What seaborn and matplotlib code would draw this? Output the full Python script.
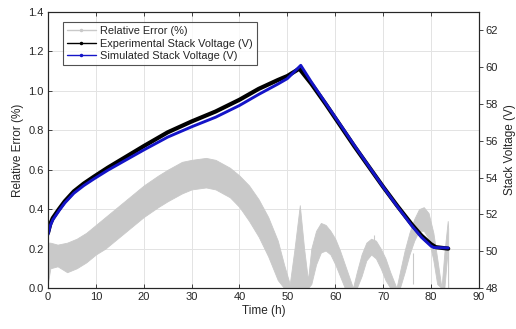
import numpy as np
import pandas as pd
import matplotlib
matplotlib.use("Agg")
import matplotlib.pyplot as plt
from matplotlib.lines import Line2D
import seaborn as sns

# relative error band (envelope)
err_t = [0, 0.5, 2, 4, 6, 8, 10, 12, 15, 18, 20, 23, 25, 28, 30, 33, 35, 38, 40, 42,
         44, 46, 48, 49.3, 50.5, 51.5, 52.6, 53.5, 54.3, 55, 56, 57, 58, 59, 60, 61,
         62, 63, 63.7, 64.5, 65.5, 66.5, 67.5, 68.5, 69.5, 70.5, 71.5, 72.8, 73.5,
         74.5, 75.5, 76.5, 77.5, 78.5, 79.5, 80.5, 81.3, 82.2, 82.8, 83.5, 83.6]
err_hi = [0.23, 0.23, 0.22, 0.23, 0.25, 0.28, 0.32, 0.36, 0.42, 0.48, 0.52, 0.57, 0.60,
          0.64, 0.65, 0.66, 0.65, 0.61, 0.57, 0.52, 0.45, 0.36, 0.24, 0.12, 0.02, 0.20,
          0.42, 0.20, 0.04, 0.20, 0.29, 0.33, 0.32, 0.29, 0.25, 0.19, 0.12, 0.05, 0.0,
          0.08, 0.17, 0.23, 0.25, 0.24, 0.20, 0.15, 0.08, 0.0, 0.08, 0.19, 0.28, 0.35,
          0.40, 0.41, 0.38, 0.28, 0.15, 0.0, 0.18, 0.34, 0.30]
err_lo = [0.03, 0.10, 0.11, 0.08, 0.10, 0.13, 0.17, 0.20, 0.26, 0.32, 0.36, 0.41, 0.44,
          0.48, 0.50, 0.51, 0.50, 0.46, 0.41, 0.34, 0.26, 0.16, 0.04, 0.0, 0.0, 0.0,
          0.0, 0.0, 0.0, 0.02, 0.12, 0.18, 0.19, 0.17, 0.12, 0.06, 0.0, 0.0, 0.0,
          0.0, 0.06, 0.14, 0.17, 0.15, 0.10, 0.04, 0.0, 0.0, 0.0, 0.08, 0.17, 0.24,
          0.29, 0.29, 0.25, 0.14, 0.02, 0.0, 0.0, 0.20, 0.0]
# isolated outlier streaks (time, low, high)
spike_t = [76.2, 68.2]
spike_lo = [0.02, 0.22]
spike_hi = [0.18, 0.27]

# stack voltages
exp_t = [0, 0.5, 1, 2.3, 3.5, 5.4, 7.5, 9.6, 12.5, 15.9, 20, 25, 30, 35, 40, 44, 48,
         50, 52.5, 55, 58, 61, 64, 67, 70, 73, 76, 78, 80, 81, 83.6]
exp_v = [51.0, 51.5, 51.8, 52.29, 52.71, 53.25, 53.68, 54.05, 54.54, 55.07, 55.71,
         56.46, 57.05, 57.59, 58.23, 58.82, 59.30, 59.52, 59.92,
         59.1, 58.0, 56.85, 55.7, 54.6, 53.5, 52.45, 51.45, 50.85, 50.38, 50.22, 50.14]
sim_t = [0, 0.5, 1, 2.3, 3.5, 5.4, 7.5, 9.6, 12.5, 15.9, 20, 25, 30, 35, 40, 44, 48,
         50, 52.8, 55, 58, 61, 64, 67, 70, 73, 76, 78, 80, 80.6, 83.6]
sim_v = [50.9, 51.4, 51.7, 52.2, 52.62, 53.15, 53.57, 53.93, 54.4, 54.9, 55.5,
         56.2, 56.76, 57.28, 57.92, 58.52, 59.08, 59.38, 60.1,
         59.2, 58.05, 56.9, 55.75, 54.62, 53.5, 52.42, 51.38, 50.76, 50.28, 50.2, 50.18]

sns.set_style("ticks")
plt.rcParams["font.family"] = ["Liberation Sans", "DejaVu Sans"]
txt = "#262626"
plt.rcParams["axes.edgecolor"] = txt
plt.rcParams["xtick.color"] = txt
plt.rcParams["ytick.color"] = txt

fig = plt.figure(figsize=(5.16, 3.29), dpi=100)
ax = fig.add_axes([0.093, 0.1246, 0.835, 0.839])
ax2 = ax.twinx()

gray = "#c9c9c9"
ax.fill_between(err_t, err_lo, err_hi, color=gray, lw=0.6, edgecolor=gray, zorder=2)
ax.vlines(spike_t, spike_lo, spike_hi, color=gray, lw=0.8, zorder=2)

df = pd.concat([
    pd.DataFrame({"t": exp_t, "v": exp_v, "s": "Experimental Stack Voltage (V)"}),
    pd.DataFrame({"t": sim_t, "v": sim_v, "s": "Simulated Stack Voltage (V)"}),
])
sns.lineplot(data=df, x="t", y="v", hue="s", palette=["black", "#1414c8"],
             size="s", sizes=[3.0, 2.1], sort=False, legend=False, ax=ax2)

ax.set_xlim(0, 90)
ax.set_ylim(0, 1.4)
ax2.set_ylim(48, 63)
ax.set_xticks(np.arange(0, 91, 10))
ax.set_yticks(np.arange(0, 1.41, 0.2))
ax.set_yticklabels([f"{v:.1f}" for v in np.arange(0, 1.41, 0.2)])
ax2.set_yticks(np.arange(48, 63, 2))
ax.grid(True, color="#e3e3e3", lw=0.7)
ax.set_axisbelow(True)

for a in (ax, ax2):
    for s in a.spines.values():
        s.set_visible(True)
        s.set_linewidth(0.8)
        s.set_color(txt)
ax.tick_params(direction="in", length=3, width=0.6, labelsize=8, top=True, pad=3)
ax2.tick_params(direction="out", length=3, width=0.6, labelsize=8, pad=2)

ax.set_xlabel("Time (h)", fontsize=8.5, color=txt, labelpad=2)
ax.set_ylabel("Relative Error (%)", fontsize=8.5, color=txt, labelpad=3)
ax2.set_ylabel("Stack Voltage (V)", fontsize=8.5, color=txt, labelpad=4)
ax2.set_xlabel("")

handles = [
    Line2D([], [], color=gray, lw=1.0, marker=".", ms=3),
    Line2D([], [], color="black", lw=1.0, marker=".", ms=3),
    Line2D([], [], color="#1414c8", lw=1.0, marker=".", ms=3),
]
labels = ["Relative Error (%)", "Experimental Stack Voltage (V)", "Simulated Stack Voltage (V)"]
leg = ax2.legend(handles, labels, loc="upper left", bbox_to_anchor=(0.035, 0.964),
                 borderaxespad=0, fontsize=7.95, frameon=True, fancybox=False,
                 handlelength=2.6, handletextpad=0.4, labelspacing=0.25,
                 borderpad=0.35)
leg.get_frame().set_edgecolor(txt)
leg.get_frame().set_linewidth(0.8)
for t in leg.get_texts():
    t.set_color(txt)

fig.savefig("out.png", dpi=100)
